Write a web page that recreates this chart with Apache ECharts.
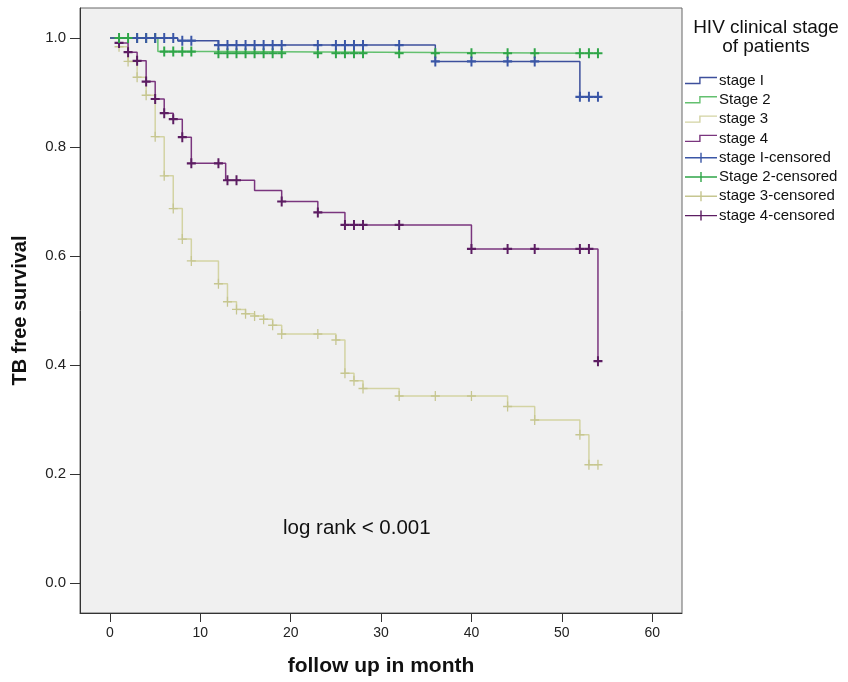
<!DOCTYPE html>
<html>
<head>
<meta charset="utf-8">
<script src="https://cdn.jsdelivr.net/npm/echarts@6/dist/echarts.min.js"></script>
<style>html,body{margin:0;padding:0;background:#fff}#c{width:848px;height:682px}</style>
</head>
<body>
<div id="c"></div>
<script>
// ---- data ----
const xTicks = [0, 10, 20, 30, 40, 50, 60];
const yTicks = [0, 0.2, 0.4, 0.6, 0.8, 1.0];

const seriesNames = ['stage I', 'Stage 2', 'stage 3', 'stage 4'];
const censorNames = ['stage I-censored', 'Stage 2-censored', 'stage 3-censored', 'stage 4-censored'];

// step curves: time (months) and survival
const stage1T = [0, 7.5, 12, 36, 52, 54];
const stage1S = [1.0, 0.995, 0.987, 0.957, 0.892, 0.892];
const stage2T = [0, 5.3, 12, 54];
const stage2S = [1.0, 0.975, 0.972, 0.972];
const stage3T = [0, 1, 2, 3, 4, 5, 6, 7, 8, 9, 12, 13, 14, 15, 16, 17, 18, 19, 25, 26, 27, 28, 32, 44, 47, 52, 53, 54];
const stage3S = [1.0, 0.984, 0.957, 0.928, 0.895, 0.819, 0.747, 0.687, 0.631, 0.591, 0.549, 0.516, 0.502, 0.494, 0.490, 0.484, 0.473, 0.457, 0.446, 0.385, 0.371, 0.357, 0.343, 0.324, 0.299, 0.272, 0.217, 0.217];
const stage4T = [0, 1, 2, 3, 4, 5, 6, 7, 8, 9, 12.8, 16, 19, 23, 26, 40, 54, 54];
const stage4S = [1.0, 0.991, 0.974, 0.958, 0.920, 0.888, 0.862, 0.851, 0.818, 0.770, 0.739, 0.720, 0.700, 0.680, 0.657, 0.613, 0.407, 0.407];

// censored marks
const cens1T = [3, 4, 5, 6, 7, 8, 9, 12, 13, 14, 15, 16, 17, 18, 19, 23, 25, 26, 27, 28, 32, 36, 40, 44, 47, 52, 53, 54];
const cens1S = [1, 1, 1, 1, 1, 0.995, 0.995, 0.987, 0.987, 0.987, 0.987, 0.987, 0.987, 0.987, 0.987, 0.987, 0.987, 0.987, 0.987, 0.987, 0.987, 0.957, 0.957, 0.957, 0.957, 0.892, 0.892, 0.892];
const cens2T = [1, 2, 3, 4, 5, 6, 7, 8, 9, 12, 13, 14, 15, 16, 17, 18, 19, 23, 25, 26, 27, 28, 32, 36, 40, 44, 47, 52, 53, 54];
const cens2S = [1, 1, 1, 1, 1, 0.975, 0.975, 0.975, 0.975, 0.972, 0.972, 0.972, 0.972, 0.972, 0.972, 0.972, 0.972, 0.972, 0.972, 0.972, 0.972, 0.972, 0.972, 0.972, 0.972, 0.972, 0.972, 0.972, 0.972, 0.972];
const cens3T = [1, 2, 3, 4, 5, 6, 7, 8, 9, 12, 13, 14, 15, 16, 17, 18, 19, 23, 25, 26, 27, 28, 32, 36, 40, 44, 47, 52, 53, 54];
const cens3S = [0.984, 0.957, 0.928, 0.895, 0.819, 0.747, 0.687, 0.631, 0.591, 0.549, 0.516, 0.502, 0.494, 0.490, 0.484, 0.473, 0.457, 0.457, 0.446, 0.385, 0.371, 0.357, 0.343, 0.343, 0.343, 0.324, 0.299, 0.272, 0.217, 0.217];
const cens4T = [1, 2, 3, 4, 5, 6, 7, 8, 9, 12, 13, 14, 19, 23, 26, 27, 28, 32, 40, 44, 47, 52, 53, 54];
const cens4S = [0.991, 0.974, 0.958, 0.920, 0.888, 0.862, 0.851, 0.818, 0.770, 0.770, 0.739, 0.739, 0.700, 0.680, 0.657, 0.657, 0.657, 0.657, 0.613, 0.613, 0.613, 0.613, 0.613, 0.407];

// ---- styling ----
const lineColors = ['#3d4f9c', '#63c06f', '#d3d3a3', '#7a357e'];
const markColors = ['#3a56a6', '#2fa548', '#c6c690', '#5c1d62'];
const FONT = 'Liberation Sans, Arial, sans-serif';

const zip = (t, s) => t.map((v, i) => [v, s[i]]);
const curves = [zip(stage1T, stage1S), zip(stage2T, stage2S), zip(stage3T, stage3S), zip(stage4T, stage4S)];
const marks = [zip(cens1T, cens1S), zip(cens2T, cens2S), zip(cens3T, cens3S), zip(cens4T, cens4S)];

const plusThick = 'path://M3.9,0 H6.1 V3.9 H10 V6.1 H6.1 V10 H3.9 V6.1 H0 V3.9 H3.9 Z';
const plusThin = 'path://M4.3,0 H5.7 V4.3 H10 V5.7 H5.7 V10 H4.3 V5.7 H0 V4.3 H4.3 Z';
const stepIcon = 'path://M0,8.6 H14.2 V2.6 H32 V4 H15.6 V10 H0 Z';
const plusIcon = 'path://M0,5.3 H15.3 V1 H16.7 V5.3 H32 V6.7 H16.7 V11 H15.3 V6.7 H0 Z';

const drawOrder = [2, 3, 1, 0];
const series = [];
drawOrder.forEach(i => {
  series.push({
    name: seriesNames[i], type: 'line', step: 'end', data: curves[i],
    showSymbol: false, symbol: 'none', z: 2,
    lineStyle: { color: lineColors[i], width: 1.5 },
    itemStyle: { color: lineColors[i] },
    emphasis: { disabled: true }
  });
});
drawOrder.forEach(i => {
  series.push({
    name: censorNames[i], type: 'scatter', data: marks[i],
    symbol: i === 2 ? plusThin : plusThick, symbolSize: [9, 10], z: 3,
    itemStyle: { color: markColors[i], opacity: 1 },
    emphasis: { disabled: true }
  });
});

const legendData = seriesNames.map((n, i) => ({ name: n, icon: stepIcon, itemStyle: { color: lineColors[i] } }))
  .concat(censorNames.map((n, i) => ({ name: n, icon: plusIcon, itemStyle: { color: markColors[i] } })));

const chart = echarts.init(document.getElementById('c'), null, { renderer: 'canvas' });
chart.setOption({
  animation: false,
  backgroundColor: '#ffffff',
  textStyle: { fontFamily: FONT },
  grid: { left: 80, top: 8, right: 166, bottom: 69, show: true, backgroundColor: '#f0f0f0', borderColor: '#666', borderWidth: 1, containLabel: false },
  xAxis: {
    type: 'value', min: -3.32, max: 63.3,
    axisLine: { show: true, onZero: false, lineStyle: { color: '#333', width: 1 } },
    axisTick: { show: true, customValues: xTicks, length: 9, lineStyle: { color: '#333' } },
    axisLabel: { customValues: xTicks, margin: 13, fontSize: 14, color: '#222', fontFamily: FONT },
    splitLine: { show: false },
    name: 'follow up in month', nameLocation: 'middle', nameGap: 43,
    nameTextStyle: { fontWeight: 'bold', fontSize: 21, color: '#111', fontFamily: FONT }
  },
  yAxis: {
    type: 'value', min: -0.055, max: 1.055,
    axisLine: { show: true, onZero: false, lineStyle: { color: '#333', width: 1 } },
    axisTick: { show: true, customValues: yTicks, length: 10, lineStyle: { color: '#333' } },
    axisLabel: { customValues: yTicks, margin: 14, fontSize: 15, color: '#222', fontFamily: FONT, formatter: v => v.toFixed(1) },
    splitLine: { show: false },
    name: 'TB free survival', nameLocation: 'middle', nameGap: 50,
    nameTextStyle: { fontWeight: 'bold', fontSize: 20, color: '#111', fontFamily: FONT }
  },
  legend: {
    orient: 'vertical', left: 685, top: 73, padding: 0, itemWidth: 32, itemHeight: 12, itemGap: 4.3,
    selectedMode: false, data: legendData,
    textStyle: { fontSize: 15, lineHeight: 14, color: '#111', fontFamily: FONT, padding: [0, 0, 0, -3] }
  },
  graphic: [
    { type: 'text', x: 766, y: 18, style: { text: 'HIV clinical stage', fontSize: 19, fontFamily: FONT, fill: '#111', align: 'center' } },
    { type: 'text', x: 766, y: 37, style: { text: 'of patients', fontSize: 19, fontFamily: FONT, fill: '#111', align: 'center' } },
    { type: 'text', left: 283, top: 518, style: { text: 'log rank < 0.001', fontSize: 20.5, fontFamily: FONT, fill: '#111' } }
  ],
  series: series
});
</script>
</body>
</html>
